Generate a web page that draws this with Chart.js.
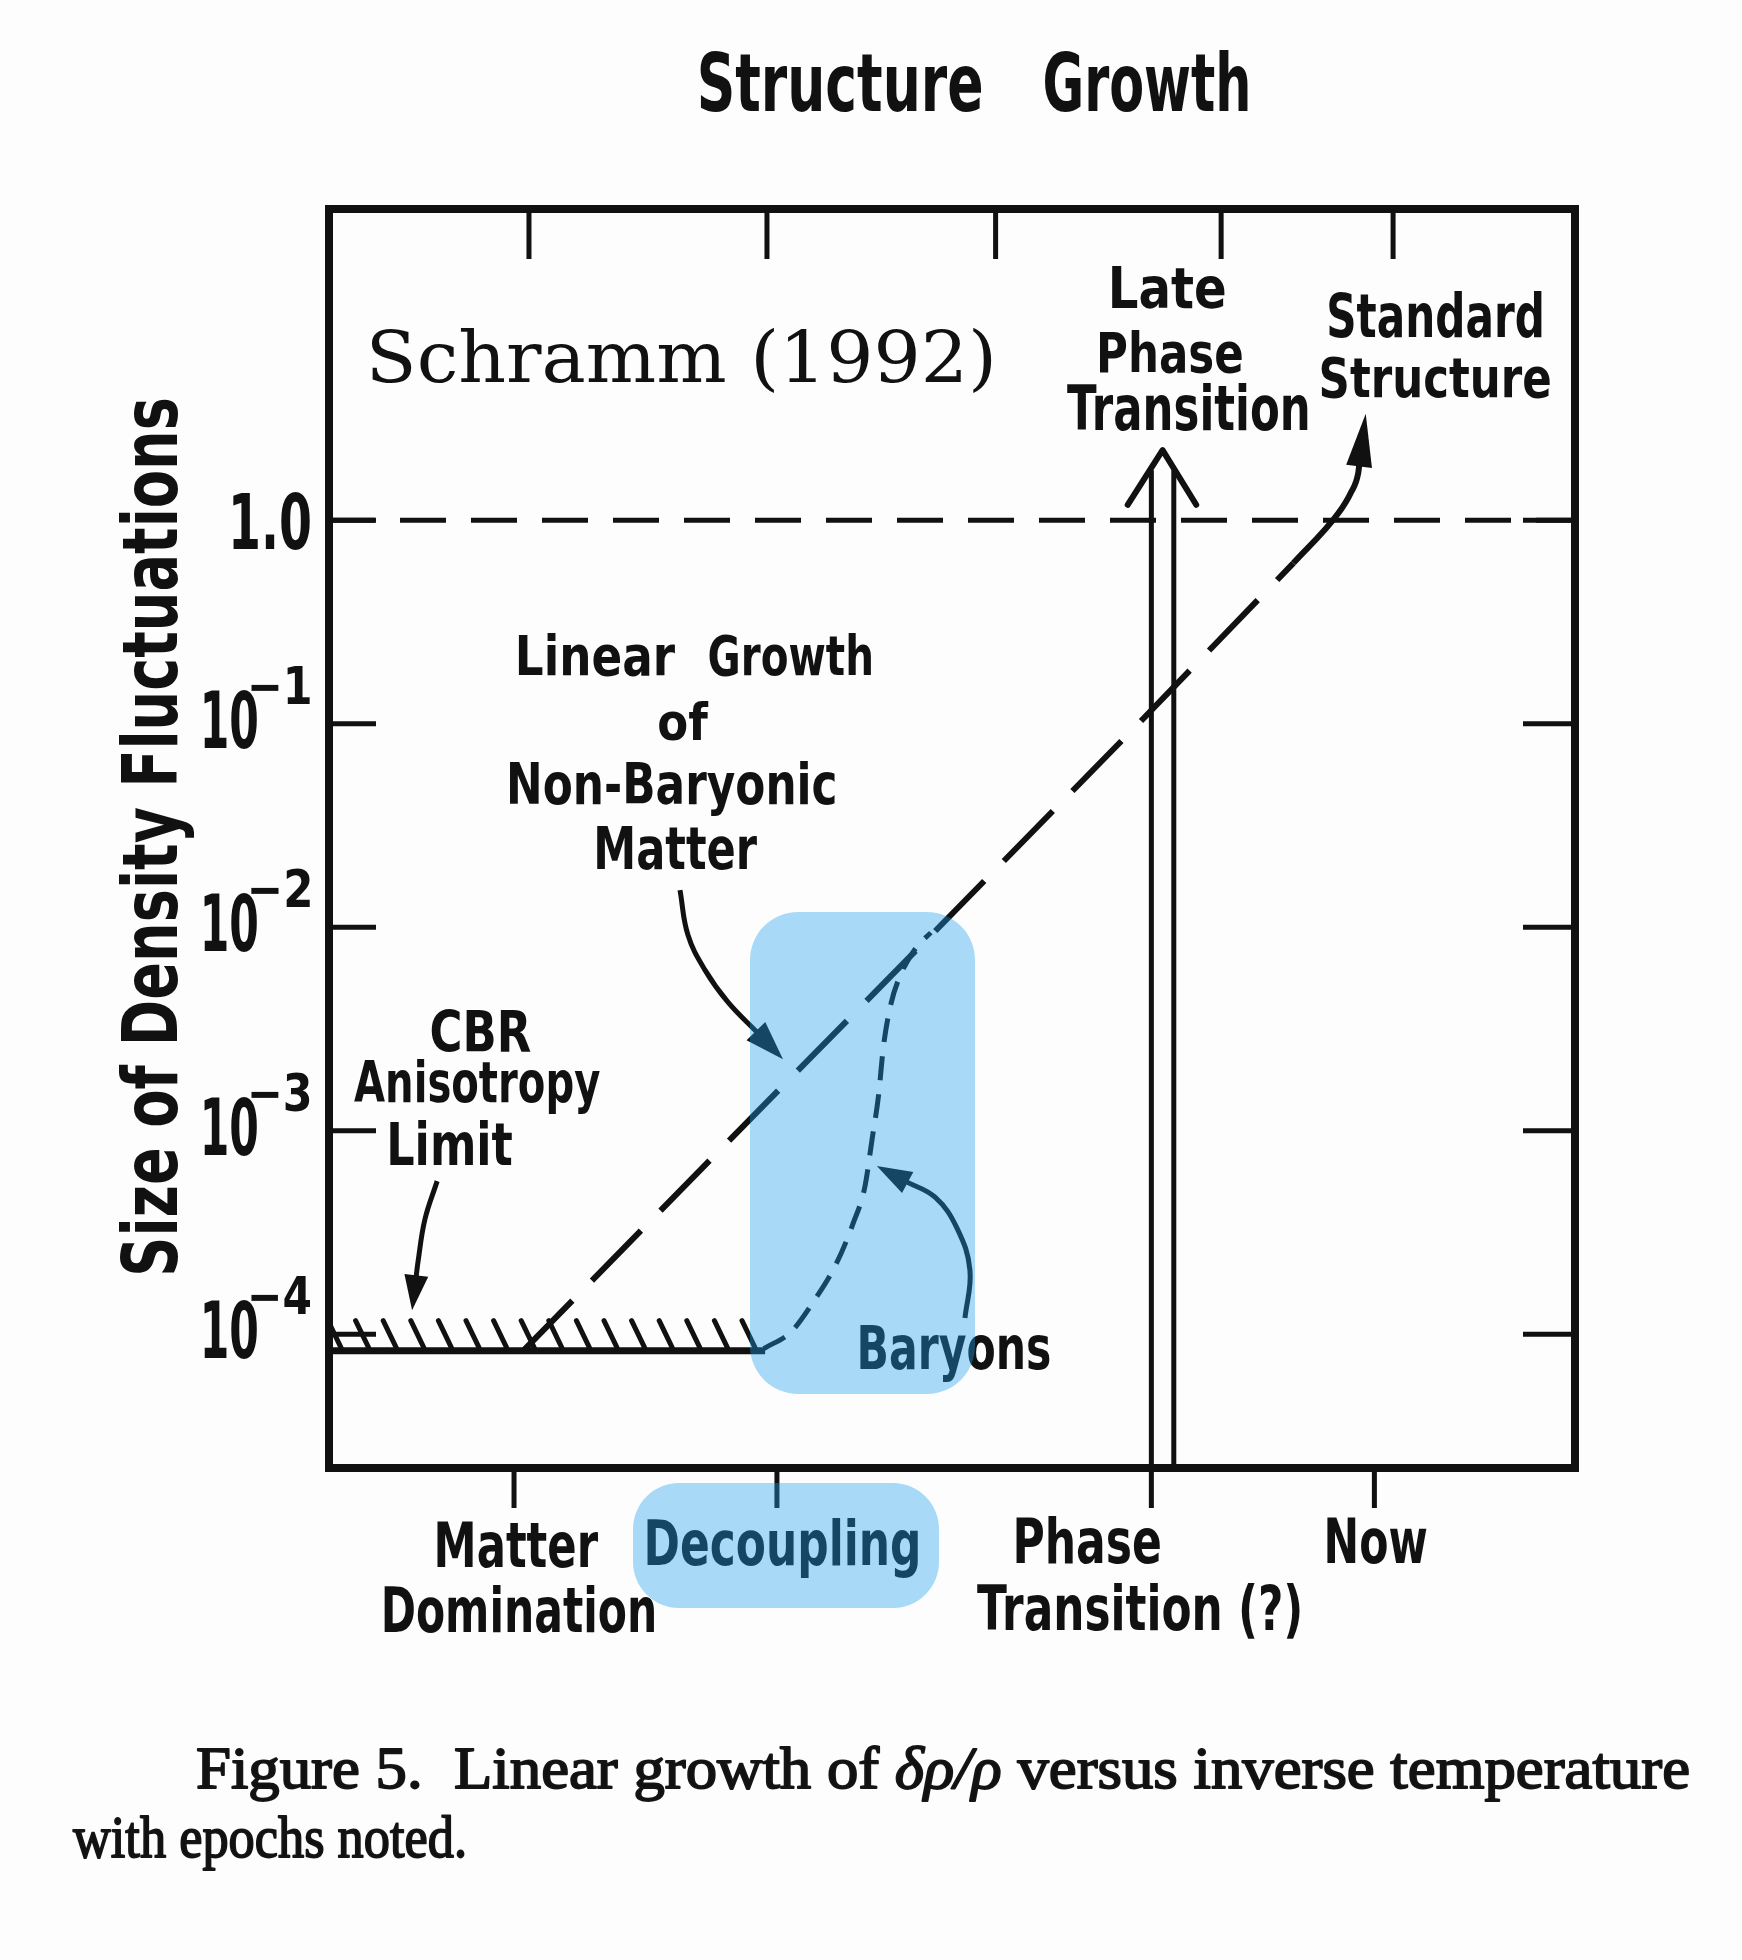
<!DOCTYPE html>
<html>
<head>
<meta charset="utf-8">
<title>Structure Growth</title>
<script src="https://cdn.jsdelivr.net/npm/chart.js@4.4.1/dist/chart.umd.min.js"></script>
<style>
  html, body { margin: 0; padding: 0; background: #fdfdfd; }
  canvas { display: block; }
</style>
</head>
<body>
<canvas id="growth" width="1742" height="1960" style="width:1742px;height:1960px"></canvas>
<script>
// x is inverse temperature in arbitrary units (0..100 across the frame), y is delta rho / rho
var xMin = 0, xMax = 100;
var yMin = 2.2e-5, yMax = 33.8;

// y ticks
var yTickValues = [1, 1e-1, 1e-2, 1e-3, 1e-4];
var yTickBase   = ['1.0', '10', '10', '10', '10'];
var yTickPower  = ['', '−1', '−2', '−3', '−4'];

// epochs along the bottom, plain ticks along the top
var epochNames = [['Matter', 'Domination'], ['Decoupling'], ['Phase', 'Transition (?)'], ['Now']];
var epochX     = [14.85, 35.95, 66.0, 83.9];
var topTickX   = [16.05, 35.15, 53.5, 71.6, 85.4];

// delta rho / rho = 1
var unityX = [0, 100];
var unityY = [1, 1];

// CBR anisotropy limit
var cbrLimitX = [0, 35.0];
var cbrLimitY = [8.3e-5, 8.3e-5];

// linear growth of non-baryonic matter
var nonBaryonX = [15.6, 32.0, 48.3, 65.1, 77.4];
var nonBaryonY = [8.3e-5, 8.8e-4, 9.1e-3, 0.102, 0.615];
// ... bending up into standard structure
var structureX = [77.4, 81.0, 82.0, 82.6, 82.7];
var structureY = [0.615, 1.08, 1.36, 1.70, 1.90];

// baryons catching up after decoupling
var baryonX = [34.9, 37.1, 38.8, 40.7, 42.1, 43.0, 43.6, 44.1, 44.5, 45.1, 45.8, 47.1, 48.3];
var baryonY = [8.5e-5, 1.03e-4, 1.42e-4, 2.21e-4, 3.55e-4, 5.27e-4, 9.2e-4, 1.48e-3, 2.6e-3, 4.2e-3, 5.7e-3, 7.9e-3, 9.4e-3];

// late phase transition (hollow arrow)
var lateLeftX  = [66.0, 66.0];
var lateRightX = [67.8, 67.8];
var lateShaftY = [yMin, 1.76];
var lateHeadX  = [64.1, 66.9, 69.6];
var lateHeadY  = [1.19, 2.21, 1.19];

// label pointers
var cbrPointerX    = [8.68, 7.70, 7.14, 6.98];
var cbrPointerY    = [5.65e-4, 3.67e-4, 2.26e-4, 1.88e-4];
var growthPointerX = [28.17, 28.81, 30.18, 32.02, 34.43];
var growthPointerY = [1.52e-2, 9.14e-3, 6.15e-3, 4.28e-3, 3.01e-3];
var baryonPointerX = [51.04, 51.44, 50.40, 48.64, 46.23];
var baryonPointerY = [1.20e-4, 2.06e-4, 3.32e-4, 4.71e-4, 5.65e-4];

var ink = '#111111';
var letterFont = "'DejaVu Sans', 'Noto Sans', sans-serif";

function pts(xs, ys) {
    return xs.map(function (x, i) { return {x: x, y: ys[i]}; });
}

// draws text so its ink fills [left, right] with the given cap height
function inkText(ctx, str, left, right, baseline, capH, family, weight, italic) {
    var size = capH / 0.73;
    ctx.font = (italic ? 'italic ' : '') + (weight || 'bold') + ' ' + size.toFixed(1) + 'px ' + (family || letterFont);
    ctx.textAlign = 'left';
    ctx.textBaseline = 'alphabetic';
    var m = ctx.measureText(str);
    var w = m.actualBoundingBoxLeft + m.actualBoundingBoxRight;
    var sx = (right - left) / w;
    ctx.save();
    ctx.translate(left + m.actualBoundingBoxLeft * sx, baseline);
    ctx.scale(sx, 1);
    ctx.fillText(str, 0, 0);
    ctx.restore();
}

// caption line made of runs (roman / italic), squeezed to a width
function captionLine(ctx, runs, left, right, baseline, size) {
    var family = "'Liberation Serif', 'DejaVu Serif', serif";
    var total = 0;
    runs.forEach(function (r) {
        ctx.font = (r[1] ? 'italic ' : '') + size + 'px ' + family;
        r.w = ctx.measureText(r[0]).width;
        total += r.w;
    });
    var sx = (right - left) / total;
    ctx.save();
    ctx.translate(left, baseline);
    ctx.scale(sx, 1);
    var x = 0;
    runs.forEach(function (r) {
        ctx.font = (r[1] ? 'italic ' : '') + size + 'px ' + family;
        ctx.lineWidth = 1.8;
        ctx.lineJoin = 'round';
        ctx.strokeStyle = '#151515';
        ctx.fillText(r[0], x, 0);
        ctx.strokeText(r[0], x, 0);
        x += r.w;
    });
    ctx.restore();
}

function arrowHead(ctx, meta, len, width) {
    var pts = meta.data;
    var p = pts[pts.length - 1];
    var qx = p.cp1x, qy = p.cp1y;
    if (qx === undefined || Math.hypot(qx - p.x, qy - p.y) < 0.5) {
        qx = pts[pts.length - 2].x;
        qy = pts[pts.length - 2].y;
    }
    var dx = p.x - qx, dy = p.y - qy;
    var d = Math.hypot(dx, dy);
    dx /= d; dy /= d;
    var nx = -dy, ny = dx;
    var bx = p.x - dx * 3, by = p.y - dy * 3;
    ctx.beginPath();
    ctx.moveTo(p.x + dx * len, p.y + dy * len);
    ctx.lineTo(bx + nx * width / 2, by + ny * width / 2);
    ctx.lineTo(bx - nx * width / 2, by - ny * width / 2);
    ctx.closePath();
    ctx.fill();
}

var paperPlugin = {
    id: 'paper',
    beforeDraw: function (chart) {
        var ctx = chart.ctx;
        ctx.save();
        ctx.fillStyle = '#fdfdfd';
        ctx.fillRect(0, 0, chart.width, chart.height);
        ctx.restore();
    },
    afterDraw: function (chart) {
        var ctx = chart.ctx;
        var a = chart.chartArea;
        var xs = chart.scales.x, ys = chart.scales.y;
        ctx.save();
        ctx.strokeStyle = ink;
        ctx.fillStyle = ink;

        // frame
        ctx.lineWidth = 8;
        ctx.lineJoin = 'miter';
        ctx.strokeRect(a.left, a.top, a.right - a.left, a.bottom - a.top);

        // ticks
        ctx.lineWidth = 5;
        ctx.beginPath();
        yTickValues.forEach(function (v) {
            var py = ys.getPixelForValue(v);
            ctx.moveTo(a.left, py); ctx.lineTo(a.left + 47, py);
            ctx.moveTo(a.right, py); ctx.lineTo(a.right - 52, py);
        });
        topTickX.forEach(function (v) {
            var px = xs.getPixelForValue(v);
            ctx.moveTo(px, a.top); ctx.lineTo(px, a.top + 50);
        });
        epochX.forEach(function (v) {
            var px = xs.getPixelForValue(v);
            ctx.moveTo(px, a.bottom); ctx.lineTo(px, a.bottom + 40);
        });
        ctx.stroke();

        // hatching and arrow heads
        chart.data.datasets.forEach(function (ds, i) {
            var meta = chart.getDatasetMeta(i);
            if (ds.hatch) {
                var p0 = meta.data[0], p1 = meta.data[meta.data.length - 1];
                ctx.lineWidth = 5;
                ctx.lineCap = 'round';
                ctx.beginPath();
                for (var bx = p0.x + 12; bx <= p1.x - 8; bx += 27.6) {
                    ctx.moveTo(bx, p0.y - 3);
                    ctx.lineTo(bx - 13, p0.y - 30);
                }
                ctx.stroke();
            }
            if (ds.arrow) {
                arrowHead(ctx, meta, ds.arrow[0], ds.arrow[1]);
            }
        });

        // y tick labels
        yTickValues.forEach(function (v, i) {
            var py = ys.getPixelForValue(v);
            if (yTickPower[i] === '') {
                inkText(ctx, yTickBase[i], 233, 310, py + 29, 56);
            } else {
                inkText(ctx, yTickBase[i], 204, 257, py + 24, 57);
                inkText(ctx, yTickPower[i], 251, 310, py - 20, 38);
            }
        });

        // epoch labels under the ticks
        var epochBox = [
            [[437, 598, 1567], [384, 654, 1632]],
            [[647, 918, 1565]],
            [[1016, 1160, 1563], [977, 1300, 1630]],
            [[1327, 1427, 1563]]
        ];
        epochNames.forEach(function (lines, i) {
            lines.forEach(function (t, j) {
                var b = epochBox[i][j];
                inkText(ctx, t, b[0], b[1], b[2], 46);
            });
        });

        // y axis title
        ctx.save();
        ctx.translate(177, 1273);
        ctx.rotate(-Math.PI / 2);
        inkText(ctx, 'Size of Density Fluctuations', 0, 874, 0, 56);
        ctx.restore();

        // title and annotations
        var notes = [
            ['Structure', 700, 981, 111, 59],
            ['Growth', 1045, 1248, 111, 59],
            ['Late', 1112, 1225, 308, 41],
            ['Phase', 1100, 1242, 372, 40],
            ['Transition', 1067, 1308, 430, 45],
            ['Standard', 1329, 1542, 337, 44],
            ['Structure', 1321, 1550, 397, 40],
            ['Linear', 519, 675, 675, 40],
            ['Growth', 709, 871, 675, 40],
            ['of', 659, 709, 740, 38],
            ['Non-Baryonic', 510, 835, 804, 41],
            ['Matter', 597, 757, 869, 43],
            ['CBR', 431, 531, 1052, 42],
            ['Anisotropy', 354, 600, 1102, 42],
            ['Limit', 390, 512, 1165, 43],
            ['Baryons', 860, 1050, 1369, 44]
        ];
        notes.forEach(function (n) {
            inkText(ctx, n[0], n[1], n[2], n[3], n[4]);
        });
        inkText(ctx, 'Schramm (1992)', 371, 992, 382, 52, "'DejaVu Serif', serif", 'normal');

        // caption
        captionLine(ctx, [['Figure 5.  Linear growth of ', false], ['δρ/ρ', true], [' versus inverse temperature', false]],
            196, 1690, 1788, 60);
        captionLine(ctx, [['with epochs noted.', false]], 73, 467, 1857, 60);

        // blue highlights laid over the drawing
        ctx.fillStyle = 'rgba(30,160,240,0.38)';
        ctx.beginPath();
        ctx.roundRect(750, 912, 225, 482, 48);
        ctx.roundRect(633, 1483, 306, 125, 46);
        ctx.fill();

        ctx.restore();
    }
};

var lineDefaults = {
    borderColor: ink,
    backgroundColor: ink,
    borderWidth: 6,
    pointRadius: 0,
    fill: false,
    tension: 0,
    borderCapStyle: 'butt'
};

function line(extra) {
    return Object.assign({}, lineDefaults, extra);
}

var chart = new Chart(document.getElementById('growth'), {
    type: 'line',
    data: {
        datasets: [
            line({label: 'unity', data: pts(unityX, unityY), borderWidth: 5, borderDash: [46, 25]}),
            line({label: 'CBR anisotropy limit', data: pts(cbrLimitX, cbrLimitY), borderWidth: 7, hatch: true}),
            line({label: 'Linear growth of non-baryonic matter', data: pts(nonBaryonX, nonBaryonY), borderDash: [70, 28]}),
            line({label: 'Standard structure', data: pts(structureX, structureY), cubicInterpolationMode: 'monotone', arrow: [50, 26]}),
            line({label: 'Baryons', data: pts(baryonX, baryonY), borderWidth: 5, borderDash: [24, 14], cubicInterpolationMode: 'monotone'}),
            line({label: 'Late phase transition L', data: pts(lateLeftX, lateShaftY), borderWidth: 5}),
            line({label: 'Late phase transition R', data: pts(lateRightX, lateShaftY), borderWidth: 5}),
            line({label: 'Late phase transition head', data: pts(lateHeadX, lateHeadY), borderWidth: 6, borderCapStyle: 'round', borderJoinStyle: 'round'}),
            line({label: 'CBR pointer', data: pts(cbrPointerX, cbrPointerY), borderWidth: 5, tension: 0.4, arrow: [32, 24]}),
            line({label: 'Growth pointer', data: pts(growthPointerX, growthPointerY), borderWidth: 5, tension: 0.4, arrow: [36, 26]}),
            line({label: 'Baryon pointer', data: pts(baryonPointerX, baryonPointerY), borderWidth: 5, tension: 0.4, arrow: [32, 24]})
        ]
    },
    options: {
        responsive: false,
        animation: false,
        devicePixelRatio: 1,
        layout: {padding: {left: 329, top: 209, right: 167, bottom: 492}},
        plugins: {
            legend: {display: false},
            tooltip: {enabled: false},
            title: {display: false}
        },
        scales: {
            x: {type: 'linear', min: xMin, max: xMax, display: false},
            y: {type: 'logarithmic', min: yMin, max: yMax, display: false}
        }
    },
    plugins: [paperPlugin]
});
</script>
</body>
</html>
